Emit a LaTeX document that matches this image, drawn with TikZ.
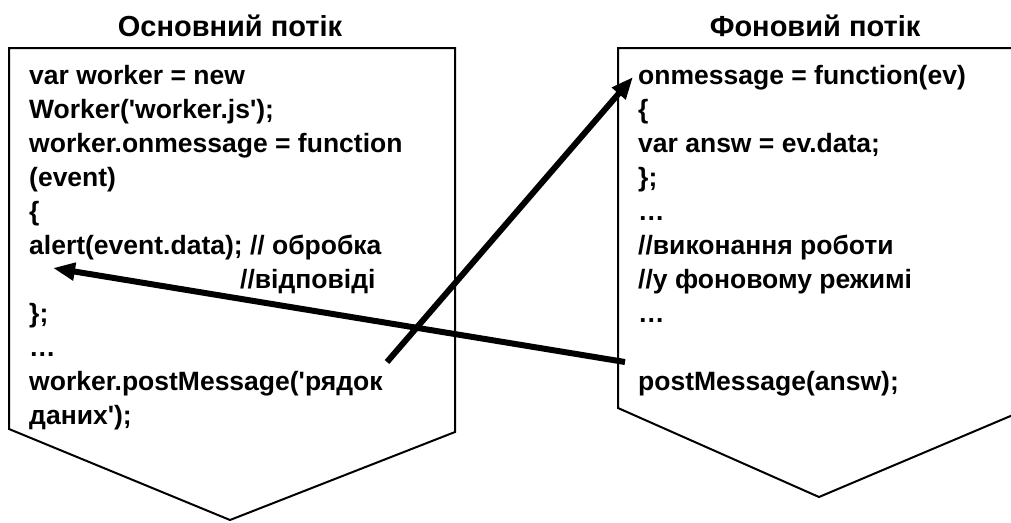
\documentclass[tikz,border=0pt]{standalone}
\usepackage{fontspec}
\newfontfamily\arialfont{Liberation Sans}
\usetikzlibrary{arrows.meta}
\tikzset{
  threadshape/.style={draw=black, line width=2pt, line join=miter, fill=white},
  codeblock/.style={anchor=base west, align=left, inner sep=0pt,
    font=\arialfont\bfseries\fontsize{26.5}{34}\selectfont},
  titletext/.style={anchor=base, inner sep=0pt,
    font=\arialfont\bfseries\fontsize{29}{32}\selectfont},
  msgarrow/.style={line width=6pt, -{Triangle[length=22pt,width=17pt]}}
}
\begin{document}
\begin{tikzpicture}[x=1pt,y=-1pt]
\useasboundingbox (0,0) rectangle (1011,522);
\fill[white] (0,0) rectangle (1011,522);
\begin{scope}
\clip (0,0) rectangle (1011,522);
% left thread shape
\draw[threadshape] (9,48) -- (455,48) -- (455,432) -- (230,520) -- (9,429) -- cycle;
% right thread shape
\draw[threadshape] (618,48) -- (1020,48) -- (1020,412) -- (819,497) -- (618,408) -- cycle;
\end{scope}
\node[titletext] (t1) at (230,36) {Основний потік};
\node[titletext] (t2) at (815,36) {Фоновий потік};
% code blocks: anchored at the baseline of their last line
\node[codeblock] (left) at (29,424) {var worker = new\\
Worker('worker.js');\\
worker.onmessage = function\\
(event)\\
\{\\
alert(event.data); // обробка\\
\hspace*{211pt}//відповіді\\
\};\\
…\\
worker.postMessage('рядок\\
даних');};
\node[codeblock] (right) at (638,390) {onmessage = function(ev)\\
\{\\
var answ = ev.data;\\
\};\\
…\\
//виконання роботи\\
//у фоновому режимі\\
…\\[34pt]
postMessage(answ);};
\coordinate (sendfrom) at (387,362);
\coordinate (sendto) at (633,77);
\coordinate (replyfrom) at (625,362);
\coordinate (replyto) at (53,268);
\draw[msgarrow] (sendfrom) -- (sendto);
\draw[msgarrow] (replyfrom) -- (replyto);
\end{tikzpicture}
\end{document}
